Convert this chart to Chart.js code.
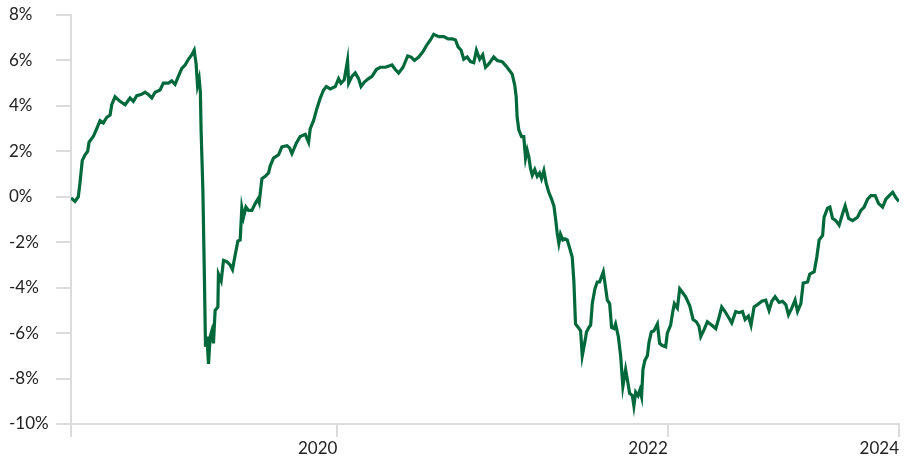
<!DOCTYPE html>
<html><head><meta charset="utf-8">
<script src="https://cdn.jsdelivr.net/npm/chart.js@4.4.1/dist/chart.umd.min.js"></script>
<style>html,body{margin:0;padding:0;background:#fff;} canvas{display:block;}</style>
</head><body>
<canvas id="c" width="909" height="456"></canvas>
<script>
// Months since the start of the series (x) and the value in % (y)
const months = [0,0.29,0.53,0.65,0.82,1.02,1.21,1.31,1.62,1.87,
2.11,2.35,2.60,2.84,2.96,3.20,3.56,3.93,4.29,4.53,
4.78,5.09,5.38,5.62,5.87,6.11,6.47,6.71,7.08,7.32,
7.56,7.80,8.05,8.29,8.53,8.78,8.95,9.09,9.19,9.31,
9.40,9.45,9.58,9.69,9.77,9.87,9.99,10.11,10.23,10.35,
10.47,10.67,10.71,10.91,11.08,11.32,11.56,11.73,11.93,12.12,
12.29,12.41,12.53,12.71,12.89,13.14,13.38,13.58,13.67,13.87,
14.11,14.35,14.47,14.71,15.08,15.32,15.69,15.88,16.05,16.36,
16.65,17.02,17.26,17.38,17.62,17.87,18.11,18.35,18.55,18.84,
19.20,19.44,19.61,19.85,20.09,20.17,20.41,20.65,20.89,21.07,
21.31,21.62,21.87,22.18,22.47,22.84,23.32,23.56,23.80,24.12,
24.46,24.71,24.95,25.26,25.58,25.87,26.11,26.35,26.71,27.08,
27.40,27.69,27.93,28.12,28.34,28.53,28.78,29.02,29.26,29.45,
29.69,29.91,30.11,30.35,30.71,30.96,31.32,31.61,31.80,32.05,
32.24,32.34,32.41,32.53,32.73,32.89,33.02,33.14,33.26,33.38,
33.51,33.69,33.87,34.04,34.18,34.35,34.52,34.71,34.91,35.08,
35.20,35.32,35.44,35.56,35.73,35.88,36.05,36.22,36.41,36.53,
36.65,36.85,37.02,37.14,37.31,37.45,37.62,37.75,37.87,38.06,
38.23,38.40,38.55,38.67,38.79,38.96,39.13,39.27,39.44,39.56,
39.76,39.93,40.09,40.29,40.46,40.58,40.78,40.89,41.02,41.19,
41.33,41.45,41.55,41.69,41.87,41.99,42.16,42.35,42.60,42.76,
42.96,43.20,43.32,43.56,43.69,43.83,44.05,44.22,44.41,44.65,
44.95,45.19,45.43,45.62,45.75,45.99,46.23,46.55,46.84,47.08,
47.27,47.51,47.76,48.00,48.29,48.53,48.78,48.97,49.21,49.40,
49.62,49.87,50.18,50.47,50.71,50.91,51.15,51.44,51.69,51.93,
52.12,52.36,52.60,52.78,53.02,53.19,53.51,53.67,53.99,54.18,
54.35,54.60,54.71,54.96,55.13,55.32,55.56,55.80,56.05,56.24,
56.49,56.78,57.14,57.38,57.62,57.87,58.11,58.42,58.67,58.96,
59.20,59.44,59.69,59.93,60.15];

const values = [-0.05,-0.2,0.0,0.6,1.6,1.85,2.0,2.4,2.65,3.0,
3.35,3.25,3.5,3.6,4.05,4.4,4.2,4.05,4.35,4.2,
4.45,4.5,4.6,4.5,4.35,4.6,4.7,5.0,5.0,5.1,
4.95,5.3,5.65,5.8,6.05,6.25,6.45,5.85,4.9,5.2,
4.6,2.95,0.3,-3.5,-6.6,-6.15,-7.35,-6.15,-5.9,-6.45,
-5.0,-4.85,-3.4,-3.7,-2.8,-2.85,-3.0,-3.2,-2.55,-1.95,
-1.9,-0.5,-0.9,-0.45,-0.6,-0.6,-0.3,-0.1,-0.25,0.8,
0.9,1.05,1.35,1.7,1.85,2.2,2.25,2.15,1.9,2.35,
2.65,2.75,2.4,3.0,3.35,3.9,4.35,4.7,4.85,4.75,
4.85,5.2,5.0,5.15,6.0,5.0,5.3,5.45,5.2,4.85,
5.05,5.2,5.3,5.6,5.7,5.7,5.8,5.6,5.45,5.7,
6.2,6.15,6.0,6.15,6.4,6.7,6.9,7.15,7.05,7.05,
6.95,6.95,6.9,6.6,6.45,6.05,6.15,5.95,5.9,6.45,
6.05,6.25,5.7,5.85,6.15,6.0,5.95,5.75,5.6,5.4,
4.9,4.4,3.5,2.95,2.65,2.65,1.7,2.05,1.75,1.25,
0.95,1.2,0.9,1.05,0.8,1.15,0.6,0.2,-0.1,-0.4,
-0.95,-1.6,-2.05,-1.65,-1.9,-1.85,-1.9,-2.25,-2.65,-3.7,
-5.6,-5.75,-5.9,-7.0,-6.45,-5.95,-5.75,-5.65,-4.7,-4.05,
-3.75,-3.75,-3.5,-3.3,-3.8,-4.55,-4.7,-5.75,-5.8,-5.6,
-6.15,-7.0,-8.35,-7.6,-8.2,-8.65,-8.75,-9.2,-8.6,-8.75,
-8.5,-8.8,-7.6,-7.2,-7.0,-6.4,-5.95,-5.9,-5.6,-6.45,
-6.55,-6.6,-6.0,-5.65,-5.15,-4.7,-4.9,-4.05,-4.2,-4.4,
-4.8,-5.4,-5.5,-5.7,-6.15,-5.85,-5.5,-5.65,-5.8,-5.3,
-4.85,-5.05,-5.3,-5.55,-5.05,-5.1,-5.05,-5.4,-5.25,-5.65,
-4.85,-4.75,-4.6,-4.55,-5.0,-4.6,-4.4,-4.65,-4.6,-4.75,
-5.2,-4.9,-4.55,-5.05,-4.7,-3.8,-3.75,-3.4,-3.3,-2.65,
-1.9,-1.7,-0.9,-0.5,-0.45,-0.95,-1.05,-1.25,-0.75,-0.4,
-0.95,-1.05,-0.9,-0.6,-0.45,-0.1,0.05,0.05,-0.3,-0.45,
-0.1,0.05,0.2,-0.05,-0.2];

const xTickMonths = [0, 19.35, 43.35, 60.15];
const xTickLabels = ['', '2020', '2022', '2024'];
const yTickValues = [-10, -8, -6, -4, -2, 0, 2, 4, 6, 8];

const axisColor = '#dcdcdc';
const labelFont = {family: 'Lato', size: 17};

new Chart(document.getElementById('c'), {
  type: 'line',
  data: {
    datasets: [{
      data: months.map((m, i) => ({x: m, y: values[i]})),
      borderColor: '#00693c',
      borderWidth: 3.2,
      pointRadius: 0,
      tension: 0,
      fill: false
    }]
  },
  options: {
    responsive: false,
    animation: false,
    devicePixelRatio: 1,
    layout: {padding: {left: 9, right: 10, top: 15, bottom: 0}},
    plugins: {legend: {display: false}, tooltip: {enabled: false}},
    scales: {
      x: {
        type: 'linear',
        min: xTickMonths[0],
        max: xTickMonths[xTickMonths.length - 1],
        afterBuildTicks: s => { s.ticks = xTickMonths.map(v => ({value: v})); },
        afterFit: s => { s.height = 32; },
        grid: {drawOnChartArea: false, drawTicks: true, tickLength: 13, color: axisColor, lineWidth: 2},
        border: {display: true, color: axisColor, width: 2},
        ticks: {autoSkip: false, maxRotation: 0, align: 'end', padding: 1, color: '#222',
          font: labelFont, callback: (v, i) => xTickLabels[i]}
      },
      y: {
        type: 'linear',
        min: yTickValues[0],
        max: yTickValues[yTickValues.length - 1],
        afterBuildTicks: s => { s.ticks = yTickValues.map(v => ({value: v})); },
        afterFit: s => { s.width = 62; },
        grid: {drawOnChartArea: false, drawTicks: true, tickLength: 15, color: axisColor, lineWidth: 2},
        border: {display: true, color: axisColor, width: 2},
        ticks: {crossAlign: 'far', padding: 4, color: '#222', font: labelFont,
          callback: v => v + '%'}
      }
    }
  }
});
</script>
</body></html>
